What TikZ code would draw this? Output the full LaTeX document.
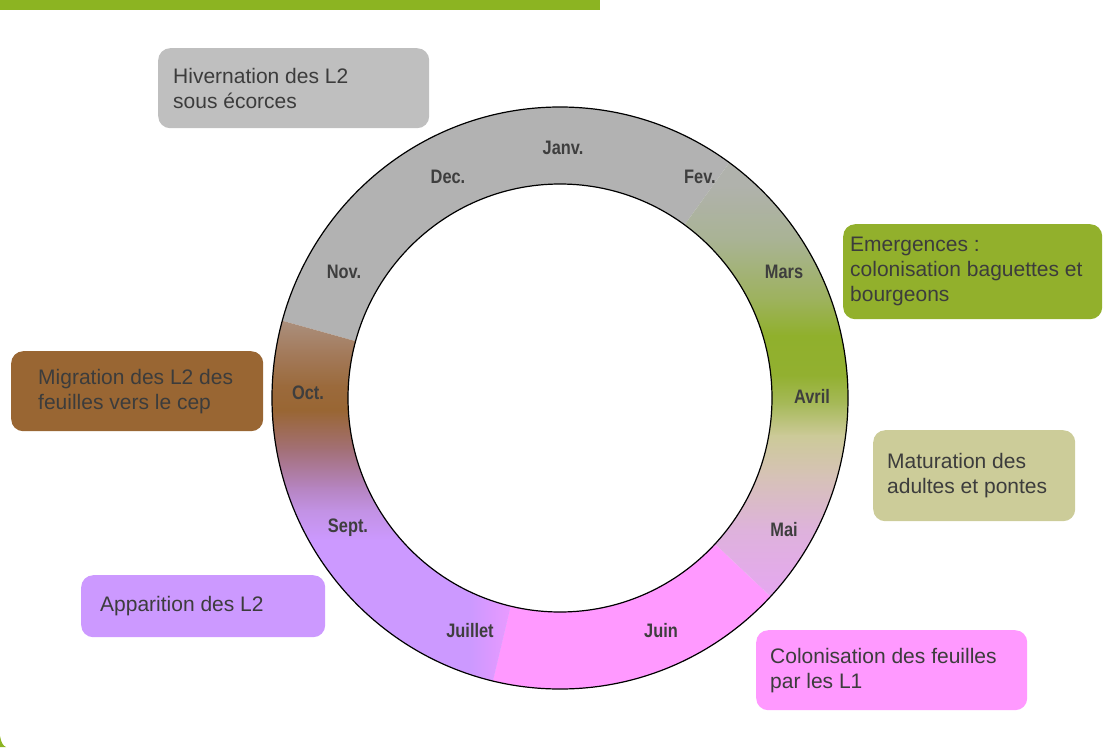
\documentclass[tikz,border=0pt]{standalone}
\usepackage{fontspec}
\setmainfont{Liberation Sans}
\newfontfamily\moisfont[FakeStretch=0.84]{Liberation Sans Bold}
\usetikzlibrary{positioning}

\definecolor{barvert}{HTML}{8CB422}
\definecolor{gris}{HTML}{B2B2B2}
\definecolor{grisclair}{HTML}{BFBFBF}
\definecolor{vert}{HTML}{92B02C}
\definecolor{beige}{HTML}{CCCC99}
\definecolor{rose}{HTML}{FF99FF}
\definecolor{lilas}{HTML}{CC99FF}
\definecolor{brun}{HTML}{996633}
\definecolor{texte}{HTML}{3C3C3C}
\definecolor{mois}{HTML}{3E3E3E}
% degrade de droite (fevrier -> mai)
\definecolor{dA}{HTML}{B0B2AC}
\definecolor{dB}{HTML}{A9B394}
\definecolor{dC}{HTML}{9DB25C}
\definecolor{dD}{HTML}{90B02C}
\definecolor{dE}{HTML}{92B030}
\definecolor{dF}{HTML}{A8BA5C}
\definecolor{dG}{HTML}{CCCA98}
\definecolor{dH}{HTML}{D6C2B6}
\definecolor{dI}{HTML}{DEB2DC}
\definecolor{dJ}{HTML}{E6A6F2}
% degrade de gauche (octobre -> septembre)
\definecolor{gA}{HTML}{AC9484}
\definecolor{gB}{HTML}{A47C5E}
\definecolor{gC}{HTML}{9B6A3C}
\definecolor{gD}{HTML}{996633}
\definecolor{gE}{HTML}{A37078}
\definecolor{gF}{HTML}{B584C0}
\definecolor{gG}{HTML}{C292E4}
\definecolor{gH}{HTML}{CC99FF}
\definecolor{rosepale}{HTML}{F09AFF}

\newcommand\anneau[2]{(#1:288 and 291) arc[start angle=#1,end angle=#2,x radius=288,y radius=291]
  -- (#2:212 and 214) arc[start angle=#2,end angle=#1,x radius=212,y radius=214] -- cycle}

\tikzset{
  boite/.style={rounded corners=12, inner sep=0, anchor=north west},
  legende/.style={font=\fontsize{21}{25}\selectfont, text=texte, align=left, inner sep=0},
  mois/.style={font=\moisfont\fontsize{19.5}{21}\selectfont, text=mois, inner sep=0}
}

\begin{document}
\begin{tikzpicture}[x=1pt,y=1pt]
\useasboundingbox (0,0) rectangle (1103,-747);
\fill[barvert] (0,0) rectangle (600,-10);
\fill[barvert] (0,-736) .. controls (1,-742) and (3,-746) .. (6,-747) -- (0,-747) -- cycle;

\coordinate (centre) at (560,-398);
\begin{scope}[shift={(centre)}]
  \fill[gris] \anneau{54}{164.6};
  \fill[rose] \anneau{256.5}{317};
  \begin{scope}
    \clip \anneau{54}{-43};
    \foreach \ya/\ca/\yb/\cb in {241/dA/212/dA, 213/dA/157/dB, 158/dB/97/dC, 98/dC/62/dD,
        63/dD/22/dE, 23/dE/-8/dF, -7/dF/-38/dG, -37/dG/-78/dH, -77/dH/-133/dI, -132/dI/-205/dJ}
      \shade[top color=\ca, bottom color=\cb] (-300,\ya) rectangle (300,\yb);
  \end{scope}
  \begin{scope}
    \clip \anneau{164.6}{256.5};
    \foreach \ya/\ca/\yb/\cb in {85/gA/47/gB, 48/gB/12/gC, 13/gC/-13/gD, -12/gD/-53/gE,
        -52/gE/-90/gF, -89/gF/-113/gG, -112/gG/-143/gH, -142/gH/-300/gH}
      \shade[top color=\ca, bottom color=\cb] (-300,\ya) rectangle (300,\yb);
    \shade[left color=lilas, right color=rosepale] (-90,-185) rectangle (-40,-300);
  \end{scope}
\end{scope}
\draw[line width=1.2] (centre) ellipse [x radius=288, y radius=291];
\draw[line width=1.2] (centre) ellipse [x radius=212, y radius=214];

\node[mois] (janv) at (563,-148) {Janv.};
\node[mois] (fev) at (700,-177) {Fev.};
\node[mois] (mars) at (784,-272) {Mars};
\node[mois] (avril) at (812,-396) {Avril};
\node[mois] (mai) at (784,-530) {Mai};
\node[mois] (juin) at (661,-631) {Juin};
\node[mois] (juil) at (470,-631) {Juillet};
\node[mois] (sept) at (348,-528) {Sept.};
\node[mois] (oct) at (308,-393) {Oct.};
\node[mois] (nov) at (344,-272) {Nov.};
\node[mois] (dec) at (448,-177) {Dec.};

\node[boite, fill=grisclair, minimum width=271, minimum height=80] (hiver) at (158,-48) {};
\node[legende, right=15 of hiver.west] (hivertxt) {Hivernation des L2\\sous écorces};
\node[boite, fill=vert, minimum width=259, minimum height=95] (emerg) at (843,-224) {};
\node[legende, right=7 of emerg.west] (emergtxt) {Emergences :\\colonisation baguettes et\\bourgeons};
\node[boite, fill=beige, minimum width=202, minimum height=91] (matur) at (873,-430) {};
\node[legende, right=14 of matur.west] (maturtxt) {Maturation des\\adultes et pontes};
\node[boite, fill=rose, minimum width=271, minimum height=80] (colon) at (756,-630) {};
\node[legende, right=14 of colon.west] (colontxt) {Colonisation des feuilles\\par les L1};
\node[boite, fill=lilas, minimum width=244, minimum height=62] (appar) at (81,-575) {};
\node[legende, right=19 of appar.west] (appartxt) {Apparition des L2};
\node[boite, fill=brun, minimum width=252, minimum height=80] (migr) at (11,-351) {};
\node[legende, right=27 of migr.west] (migrtxt) {Migration des L2 des\\feuilles vers le cep};
\end{tikzpicture}
\end{document}
